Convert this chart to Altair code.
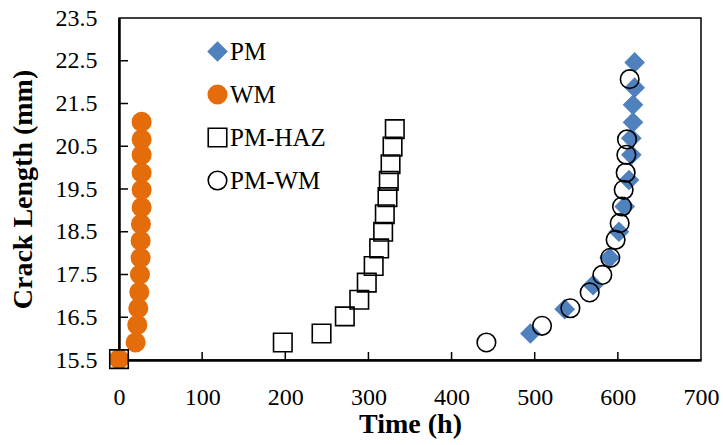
import altair as alt
import pandas as pd

# ---- data ----
series_order = ["PM", "WM", "PM-HAZ", "PM-WM"]

pm_t = [494.8, 536.1, 570.2, 590.1, 601.3, 608.2, 613.4, 616.2, 616.2, 618.2, 618.2, 620.2, 620.2]
pm_a = [16.12, 16.69, 17.25, 17.89, 18.50, 19.09, 19.71, 20.30, 20.69, 21.06, 21.47, 21.87, 22.46]

wm_t = [0, 20.0, 22.0, 23.2, 24.4, 25.2, 26.0, 26.0, 26.4, 27.2, 27.2, 27.2, 27.2, 27.2, 27.2]
wm_a = [15.52, 15.91, 16.32, 16.71, 17.09, 17.50, 17.89, 18.29, 18.68, 19.07, 19.48, 19.88, 20.30, 20.66, 21.07]

haz_t = [0, 197.0, 243.6, 271.6, 289.0, 298.0, 306.3, 312.9, 317.7, 319.7, 322.9, 324.5, 326.6, 329.0, 331.7]
haz_a = [15.52, 15.91, 16.12, 16.52, 16.91, 17.31, 17.70, 18.11, 18.50, 18.91, 19.31, 19.69, 20.08, 20.49, 20.90]

pmwm_t = [441.9, 508.8, 542.9, 566.1, 581.3, 590.9, 597.3, 602.2, 605.0, 607.0, 609.4, 610.2, 611.0, 614.2]
pmwm_a = [15.91, 16.30, 16.71, 17.08, 17.49, 17.89, 18.31, 18.70, 19.09, 19.48, 19.88, 20.30, 20.66, 22.07]

x_ticks = [0, 100, 200, 300, 400, 500, 600, 700]
y_ticks = [15.5, 16.5, 17.5, 18.5, 19.5, 20.5, 21.5, 22.5, 23.5]

# ---- styles ----
BLUE = "#4F81BD"
ORANGE = "#E46C0A"
FONT = "Liberation Serif"
W, H = 582, 342

rows = []
for name, ts, avals in [("PM", pm_t, pm_a), ("WM", wm_t, wm_a),
                        ("PM-HAZ", haz_t, haz_a), ("PM-WM", pmwm_t, pmwm_a)]:
    rows += [{"series": name, "t": t, "a": a} for t, a in zip(ts, avals)]
df = pd.DataFrame(rows)

xscale = alt.Scale(domain=[0, 700], nice=False, zero=False)
yscale = alt.Scale(domain=[15.5, 23.5], nice=False, zero=False)

leg = alt.Legend(
    orient="none", legendX=86, legendY=21, title=None,
    labelFont=FONT, labelFontSize=25, labelColor="black",
    rowPadding=17, labelOffset=0, padding=0, symbolStrokeWidth=1.6,
)

axis_common = dict(ticks=False, grid=False, labelFlush=False,
                   labelFont=FONT, labelFontSize=24, labelColor="black",
                   titleFont=FONT, titleFontSize=28, titleFontWeight="bold",
                   titleColor="black", domainColor="black", domainWidth=2.5)

points = alt.Chart(df).mark_point(filled=True, opacity=1, strokeWidth=1.6).encode(
    x=alt.X("t:Q", scale=xscale,
            axis=alt.Axis(values=x_ticks, title="Time (h)",
                          labelPadding=25, titlePadding=1, **axis_common)),
    y=alt.Y("a:Q", scale=yscale,
            axis=alt.Axis(values=y_ticks, format=".1f", title="Crack Length (mm)",
                          labelPadding=22, titlePadding=18, **axis_common)),
    shape=alt.Shape("series:N", scale=alt.Scale(domain=series_order,
                    range=["diamond", "circle", "square", "circle"]), legend=leg),
    fill=alt.Fill("series:N", scale=alt.Scale(domain=series_order,
                  range=[BLUE, ORANGE, "transparent", "transparent"]), legend=leg),
    stroke=alt.Stroke("series:N", scale=alt.Scale(domain=series_order,
                      range=[BLUE, ORANGE, "black", "black"]), legend=leg),
    size=alt.Size("series:N", scale=alt.Scale(domain=series_order,
                  range=[340, 345, 270, 300]), legend=leg),
)

ydf = pd.DataFrame({"v": y_ticks[1:-1]})
xdf = pd.DataFrame({"v": x_ticks[1:-1]})

yt = alt.Chart(ydf).mark_rule(color="black", strokeWidth=1.5).encode(
    y=alt.Y("v:Q", scale=yscale), x=alt.value(0), x2=alt.value(9))
xt = alt.Chart(xdf).mark_rule(color="black", strokeWidth=1.5).encode(
    x=alt.X("v:Q", scale=xscale), y=alt.value(H), y2=alt.value(H - 8))

chart = alt.layer(yt, xt, points).properties(
    width=W, height=H,
    autosize=alt.AutoSizeParams(type="none"),
    padding={"left": 119, "top": 18, "right": 723 - 119 - W, "bottom": 445 - 18 - H},
).configure_view(stroke="black", strokeWidth=1.5).configure_axis(
    labelFont=FONT, titleFont=FONT,
)

chart.save("out.html", embed_options={"renderer": "svg", "actions": False})
